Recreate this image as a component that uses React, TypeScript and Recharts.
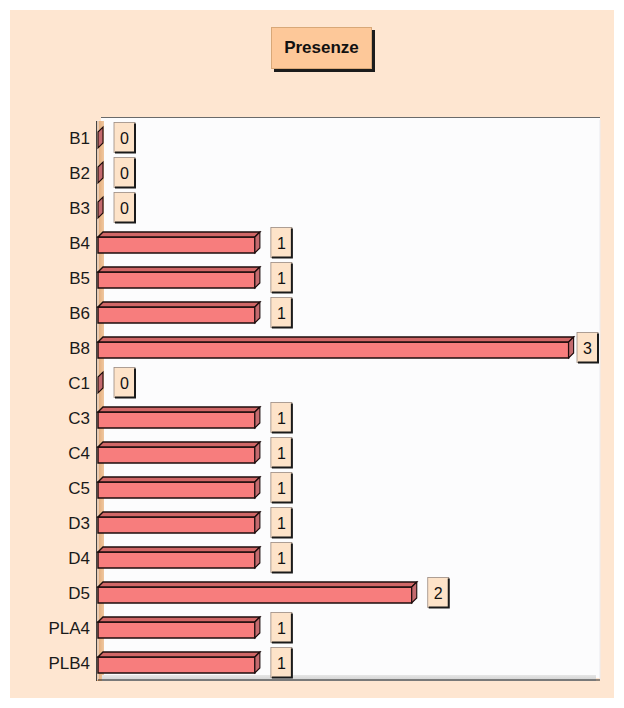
import React from "react";
import { Bar, BarChart, CartesianGrid, LabelList, XAxis, YAxis } from "recharts";

const categories = [
  "B1", "B2", "B3", "B4", "B5", "B6", "B8", "C1",
  "C3", "C4", "C5", "D3", "D4", "D5", "PLA4", "PLB4",
];
const presenze = [0, 0, 0, 1, 1, 1, 3, 0, 1, 1, 1, 1, 1, 2, 1, 1];
const gridTicks = [0, 0.525, 1.05, 1.575, 2.1, 2.625, 3.15];

const data = categories.map((name, i) => ({ name, value: presenze[i] }));

const W = 624;
const H = 708;
const PLOT_LEFT = 98;
const PLOT_RIGHT = 600;
const PLOT_TOP = 120;
const PLOT_BOTTOM = 680;
const DEPTH = 5;
const FONT = "'Liberation Sans', Arial, sans-serif";

// bar drawn as a little 3D box: front face, top face and right side
function Bar3D(props: any) {
  const { x, y, width, height } = props;
  const d = DEPTH;
  const stroke = "#1c0c0c";
  const front = `M${x},${y + d} H${x + width} V${y + height} H${x} Z`;
  const top = `M${x},${y + d} L${x + d},${y} H${x + width + d} L${x + width},${y + d} Z`;
  const side = `M${x + width},${y + d} L${x + width + d},${y} V${y + height - d} L${x + width},${y + height} Z`;
  return (
    <g>
      {width > 0 && <path d={front} fill="#f77d7d" stroke={stroke} strokeWidth={1.4} />}
      {width > 0 && <path d={top} fill="#d06666" stroke={stroke} strokeWidth={1.4} />}
      <path d={side} fill="#c46a6e" stroke={stroke} strokeWidth={1.1} />
    </g>
  );
}

function ValueBox(props: any) {
  const { x, y, width, height, value } = props;
  const bw = 21;
  const bh = 30;
  const bx = Math.min(x + width + DEPTH + 11, PLOT_RIGHT - bw - 2);
  const cy = y + height / 2;
  const by = cy - bh / 2;
  return (
    <g>
      <rect x={bx} y={by} width={bw} height={bh} fill="#fde3c9" stroke="#9a8a80" strokeWidth={0.8} />
      <path d={`M${bx + bw},${by + 1} V${by + bh} H${bx + 1}`} fill="none" stroke="#1a1a1a" strokeWidth={2} />
      <text
        x={bx + bw / 2}
        y={cy + 6}
        textAnchor="middle"
        fontFamily={FONT}
        fontSize={16}
        fill="#111"
      >
        {value}
      </text>
    </g>
  );
}

export default function App() {
  return (
    <div style={{ position: "absolute", left: 0, top: 0, width: W, height: H, background: "#ffffff" }}>
      <div style={{ position: "absolute", left: 10, top: 10, width: 604, height: 688, background: "#fee6d1" }} />

      {/* title button */}
      <div
        style={{
          position: "absolute",
          left: 271,
          top: 27,
          width: 101,
          height: 42,
          background: "#fdc899",
          border: "1px solid #d8a878",
          boxShadow: "3px 3px 0 #1c1c1c",
          boxSizing: "border-box",
          display: "flex",
          alignItems: "center",
          justifyContent: "center",
          fontFamily: FONT,
          fontWeight: "bold",
          fontSize: 17,
          color: "#111",
        }}
      >
        Presenze
      </div>

      {/* plot backdrop, left wall and floor */}
      <div style={{ position: "absolute", left: 101, top: 117, width: 499, height: 560, background: "#fcfcfd", borderTop: "1px solid #6a6a6a" }} />
      <div style={{ position: "absolute", left: 96, top: 121, width: 7, height: 560, background: "linear-gradient(90deg, #e0a672, #f0c79f)", borderLeft: "1px solid #444" }} />
      <div style={{ position: "absolute", left: 102, top: 675, width: 494, height: 6, background: "linear-gradient(180deg, #e6e6e6, #cfcfcf)" }} />

      <div style={{ position: "absolute", left: 0, top: 0 }}>
        <BarChart
          width={W}
          height={H}
          data={data}
          layout="vertical"
          margin={{ top: PLOT_TOP, right: W - PLOT_RIGHT, bottom: 0, left: 0 }}
          barCategoryGap={14}
        >
          <CartesianGrid horizontal={false} stroke="#ebebef" />
          <XAxis
            type="number"
            domain={[0, 3.2]}
            ticks={gridTicks}
            tick={false}
            tickLine={false}
            axisLine={{ stroke: "#222", strokeWidth: 1.2 }}
            height={H - PLOT_BOTTOM}
          />
          <YAxis
            type="category"
            dataKey="name"
            width={PLOT_LEFT}
            axisLine={false}
            tickLine={false}
            tick={{ fontFamily: FONT, fontSize: 17, fill: "#1a1a1a" }}
            interval={0}
          />
          <Bar dataKey="value" barSize={21} shape={<Bar3D />} isAnimationActive={false}>
            <LabelList dataKey="value" content={<ValueBox />} />
          </Bar>
        </BarChart>
      </div>
    </div>
  );
}
